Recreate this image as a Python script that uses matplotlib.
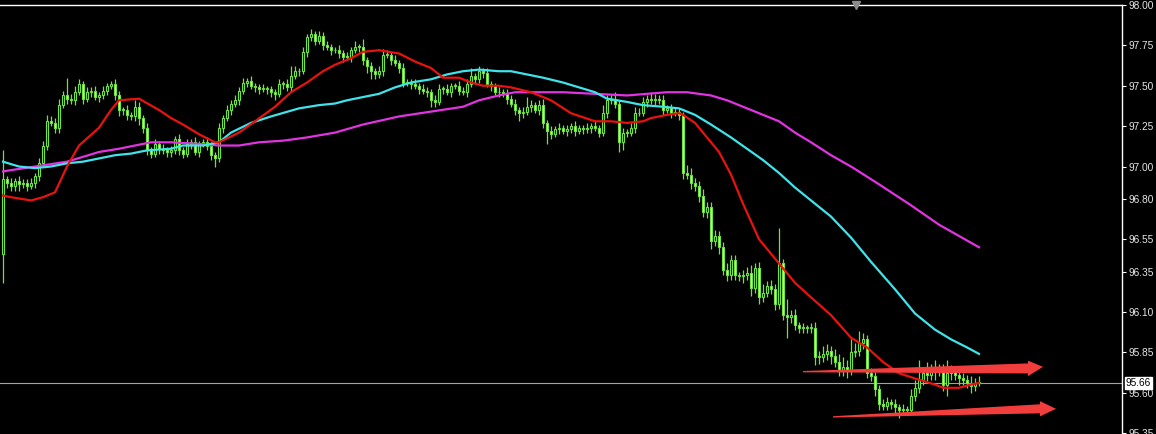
import numpy as np
import matplotlib
matplotlib.use("Agg")
import matplotlib.pyplot as plt
from matplotlib.patches import Polygon
from matplotlib.transforms import blended_transform_factory

# candle data, prices in hundredths (open of each bar = previous close)
first_open = 96.46
closes_c = [
    9692, 9690, 9688, 9691, 9689, 9690, 9688, 9690, 9694, 9702, 9713, 9728, 9727, 9724, 9738, 9744, 9742, 9741, 9746, 9751,
    9742, 9746, 9747, 9743, 9744, 9747, 9750, 9751, 9744, 9735, 9735, 9732, 9731, 9737, 9730, 9724, 9710, 9708, 9714, 9711,
    9710, 9709, 9710, 9717, 9710, 9708, 9714, 9715, 9709, 9714, 9715, 9713, 9707, 9705, 9724, 9730, 9735, 9739, 9741, 9747,
    9752, 9753, 9750, 9749, 9748, 9748, 9748, 9746, 9745, 9751, 9751, 9749, 9756, 9759, 9759, 9771, 9780, 9782, 9778, 9781,
    9775, 9774, 9772, 9772, 9770, 9768, 9768, 9772, 9774, 9774, 9766, 9762, 9759, 9757, 9759, 9769, 9769, 9766, 9764, 9761,
    9752, 9752, 9751, 9750, 9748, 9747, 9746, 9741, 9740, 9748, 9748, 9746, 9750, 9750, 9747, 9746, 9751, 9756, 9754, 9759,
    9758, 9751, 9750, 9746, 9746, 9745, 9742, 9739, 9735, 9733, 9734, 9737, 9738, 9735, 9738, 9727, 9722, 9720, 9723, 9724,
    9722, 9723, 9725, 9722, 9724, 9723, 9724, 9725, 9724, 9721, 9733, 9741, 9742, 9739, 9715, 9721, 9721, 9724, 9733, 9733,
    9740, 9742, 9741, 9742, 9741, 9735, 9736, 9733, 9734, 9732, 9696, 9695, 9690, 9688, 9682, 9672, 9675, 9654, 9657, 9650,
    9636, 9633, 9642, 9633, 9632, 9633, 9634, 9625, 9637, 9619, 9622, 9626, 9624, 9615, 9640, 9608, 9607, 9608, 9602, 9600,
    9600, 9600, 9600, 9582, 9582, 9584, 9586, 9583, 9579, 9574, 9576, 9574, 9585, 9586, 9591, 9593, 9572, 9570, 9562, 9553,
    9552, 9554, 9553, 9551, 9549, 9550, 9549, 9558, 9563, 9568, 9572, 9571, 9573, 9574, 9573, 9565, 9572, 9573, 9571, 9569,
    9568, 9566, 9564, 9566, 9566,
]
# upper / lower wick beyond the body, hundredths
up_c = [
    18, 2, 3, 2, 3, 2, 2, 3, 2, 3, 3, 4, 3, 3, 4, 3, 11, 3, 4, 3,
    2, 3, 2, 3, 2, 3, 2, 2, 3, 3, 2, 3, 2, 4, 3, 2, 3, 2, 3, 2,
    3, 2, 3, 2, 3, 2, 3, 2, 3, 2, 2, 3, 2, 2, 3, 2, 3, 2, 3, 2,
    3, 2, 3, 2, 2, 3, 2, 2, 2, 3, 2, 3, 6, 3, 2, 3, 2, 3, 2, 3,
    2, 3, 2, 2, 3, 2, 3, 2, 4, 2, 5, 2, 3, 2, 3, 4, 3, 2, 3, 2,
    3, 2, 2, 3, 2, 3, 2, 2, 3, 3, 2, 3, 2, 2, 3, 2, 3, 5, 2, 3,
    2, 3, 2, 2, 3, 2, 3, 2, 3, 2, 3, 6, 3, 2, 3, 4, 2, 3, 2, 3,
    2, 3, 2, 3, 2, 2, 3, 2, 3, 2, 5, 3, 2, 4, 2, 3, 2, 3, 4, 3,
    3, 2, 4, 3, 2, 3, 2, 3, 2, 2, 2, 5, 4, 3, 3, 4, 3, 3, 4, 3,
    3, 4, 3, 3, 2, 3, 4, 5, 3, 4, 5, 3, 4, 3, 22, 3, 10, 3, 4, 2,
    3, 2, 3, 4, 4, 5, 4, 3, 4, 5, 6, 4, 8, 5, 7, 4, 3, 3, 3, 3,
    3, 3, 2, 3, 2, 3, 2, 4, 5, 12, 4, 7, 5, 6, 4, 5, 8, 4, 3, 5,
    3, 3, 4, 3, 4,
]
dn_c = [
    18, 3, 3, 3, 4, 2, 3, 2, 3, 3, 2, 3, 2, 3, 3, 2, 3, 2, 3, 2,
    3, 2, 3, 2, 3, 2, 3, 2, 3, 4, 3, 3, 2, 3, 4, 3, 3, 3, 2, 3,
    2, 3, 3, 2, 3, 3, 2, 3, 2, 3, 2, 3, 3, 5, 2, 3, 2, 3, 2, 3,
    2, 3, 2, 3, 3, 2, 3, 3, 4, 2, 3, 2, 3, 2, 3, 2, 3, 2, 3, 2,
    3, 2, 3, 2, 3, 3, 2, 3, 2, 3, 3, 4, 5, 3, 2, 3, 2, 3, 2, 3,
    3, 2, 3, 2, 3, 2, 3, 4, 3, 2, 3, 2, 3, 2, 3, 2, 3, 2, 3, 2,
    3, 2, 3, 2, 3, 2, 3, 2, 3, 5, 3, 2, 3, 2, 3, 3, 8, 3, 2, 3,
    2, 3, 2, 3, 2, 3, 2, 3, 2, 3, 2, 3, 2, 3, 6, 5, 3, 2, 3, 2,
    2, 3, 2, 3, 2, 3, 2, 3, 2, 3, 4, 3, 4, 3, 4, 3, 4, 5, 3, 4,
    3, 4, 3, 3, 3, 4, 3, 5, 3, 4, 3, 3, 3, 4, 3, 3, 13, 4, 3, 3,
    3, 3, 3, 5, 4, 3, 4, 5, 3, 4, 4, 5, 3, 3, 3, 4, 3, 3, 4, 4,
    3, 3, 3, 4, 5, 3, 3, 3, 3, 3, 3, 4, 3, 5, 3, 4, 7, 4, 3, 4,
    3, 3, 4, 3, 2,
]

# moving averages, read at bar indices
red_idx = [0, 2, 7, 10, 13, 16, 19, 24, 27, 29, 34, 39, 42, 45, 49, 53, 54, 59, 63, 68,
           72, 76, 80, 83, 87, 90, 94, 99, 103, 107, 110, 114, 117, 120, 124, 127, 132, 137, 142, 148,
           152, 156, 160, 162, 166, 169, 170, 173, 176, 179, 182, 185, 189, 194, 198, 202, 207, 212, 216, 220,
           224, 229, 233, 235, 239, 242, 244]
red_val = [96.82, 96.81, 96.79, 96.81, 96.84, 97.00, 97.13, 97.24, 97.35, 97.41, 97.42, 97.35, 97.30, 97.26, 97.20, 97.15, 97.15, 97.21, 97.28, 97.37,
           97.46, 97.52, 97.59, 97.63, 97.67, 97.71, 97.72, 97.70, 97.65, 97.61, 97.55, 97.55, 97.52, 97.50, 97.50, 97.49, 97.46, 97.41, 97.33, 97.28,
           97.28, 97.27, 97.28, 97.30, 97.32, 97.33, 97.32, 97.27, 97.18, 97.09, 96.95, 96.77, 96.55, 96.40, 96.28, 96.19, 96.08, 95.94, 95.88, 95.79,
           95.72, 95.68, 95.65, 95.63, 95.63, 95.65, 95.66]
cyan_idx = [0, 4, 8, 12, 16, 20, 24, 28, 32, 36, 42, 45, 50, 54, 57, 62, 67, 74, 79, 83,
            86, 90, 94, 98, 102, 107, 111, 115, 119, 124, 127, 131, 135, 140, 144, 148, 151, 156, 160, 165,
            169, 173, 177, 182, 186, 190, 194, 198, 202, 207, 212, 217, 223, 228, 233, 237, 241, 244]
cyan_val = [97.03, 97.00, 96.99, 97.00, 97.02, 97.03, 97.05, 97.07, 97.08, 97.10, 97.11, 97.13, 97.13, 97.15, 97.21, 97.27, 97.31, 97.36, 97.38, 97.39,
            97.41, 97.43, 97.45, 97.49, 97.52, 97.54, 97.57, 97.59, 97.60, 97.59, 97.59, 97.57, 97.55, 97.52, 97.49, 97.46, 97.42, 97.40, 97.38, 97.37,
            97.36, 97.32, 97.26, 97.18, 97.11, 97.04, 96.96, 96.87, 96.79, 96.69, 96.56, 96.41, 96.24, 96.09, 95.99, 95.93, 95.88, 95.84]
mag_idx = [0, 8, 16, 20, 24, 29, 33, 37, 42, 49, 54, 59, 64, 70, 76, 83, 90, 99, 107, 115,
           119, 124, 128, 131, 140, 148, 156, 166, 171, 177, 181, 185, 189, 194, 198, 202, 207, 212, 219, 227,
           234, 244]
mag_val = [96.97, 97.00, 97.03, 97.06, 97.09, 97.11, 97.13, 97.15, 97.15, 97.14, 97.13, 97.13, 97.15, 97.16, 97.18, 97.21, 97.26, 97.31, 97.34, 97.37,
           97.41, 97.44, 97.46, 97.46, 97.46, 97.45, 97.44, 97.46, 97.46, 97.44, 97.41, 97.37, 97.33, 97.28, 97.21, 97.15, 97.07, 97.00, 96.89, 96.76,
           96.64, 96.50]

tick_vals = [98.00, 97.75, 97.50, 97.25, 97.00, 96.80, 96.55, 96.35, 96.10, 95.85, 95.60, 95.35]
last_price = 95.66

closes = np.array(closes_c) / 100.0
opens = np.concatenate([[first_open], closes[:-1]])
highs = np.maximum(opens, closes) + np.array(up_c) / 100.0
lows = np.minimum(opens, closes) - np.array(dn_c) / 100.0
x = np.arange(len(closes))

fig = plt.figure(figsize=(11.56, 4.34), dpi=100, facecolor="black")
ax = fig.add_axes([0, 0, 1122 / 1156, 429 / 434])
ax.set_facecolor("black")
ax.set_xlim(-0.75, 279.75)
ax.set_ylim(95.344, 98.0)

green = "#6ee53c"
ax.vlines(x, lows, highs, color=green, lw=0.9, zorder=2)
bull = closes >= opens
bot = np.minimum(opens, closes)
hgt = np.maximum(np.abs(closes - opens), 0.004)
ax.bar(x[bull], hgt[bull], bottom=bot[bull], width=0.65, facecolor="black",
       edgecolor=green, linewidth=0.8, zorder=3)
ax.bar(x[~bull], hgt[~bull], bottom=bot[~bull], width=0.65, facecolor="#dff7c8",
       edgecolor=green, linewidth=0.8, zorder=3)

ax.plot(mag_idx, mag_val, color="#e233e2", lw=1.6, zorder=4)
ax.plot(cyan_idx, cyan_val, color="#3fe3ea", lw=1.6, zorder=4)
ax.plot(red_idx, red_val, color="#e8120f", lw=1.6, zorder=5)

# current price line
ax.axhline(last_price, color="#98a4b4", lw=0.8, zorder=1)


def arrow(x0, y0, x1, y1, x2, y2, shaft, head, tail):
    pts = [(x0, y0 + tail), (x1, y1 + shaft), (x1, y1 + head), (x2, y2),
           (x1, y1 - head), (x1, y1 - shaft), (x0, y0 - tail)]
    ax.add_patch(Polygon(pts, closed=True, facecolor="#f23d3d", edgecolor="none",
                         zorder=6, clip_on=False))


arrow(200, 95.73, 256.25, 95.75, 260, 95.76, 0.031, 0.048, 0.004)
arrow(207.5, 95.45, 259.25, 95.50, 263.25, 95.50, 0.028, 0.047, 0.004)

# axes frame
for s in ["left", "bottom"]:
    ax.spines[s].set_visible(False)
for s in ["top", "right"]:
    ax.spines[s].set_color("white")
    ax.spines[s].set_linewidth(1.0)
ax.set_xticks([])
ax.yaxis.tick_right()
ax.set_yticks(tick_vals)
ax.set_yticklabels(["%.2f" % v for v in tick_vals], family="Liberation Sans")
ax.tick_params(axis="y", colors="white", length=3, width=0.8, pad=1.5,
               labelsize=7.3, labelcolor="#e6e6e6")

# last price tag
tr = blended_transform_factory(ax.transAxes, ax.transData)
ax.text(1.0035, last_price, "%.2f" % last_price, transform=tr, fontsize=7.3,
        family="Liberation Sans", color="black", va="center", ha="left",
        clip_on=False, zorder=10,
        bbox=dict(boxstyle="square,pad=0.12", facecolor="white", edgecolor="white"))

# chart shift marker
ax.plot([213.25], [98.0], marker="v", color="#8c8c8c", markersize=6,
        clip_on=False, zorder=10)

fig.savefig("out.png", dpi=100, facecolor="black")
